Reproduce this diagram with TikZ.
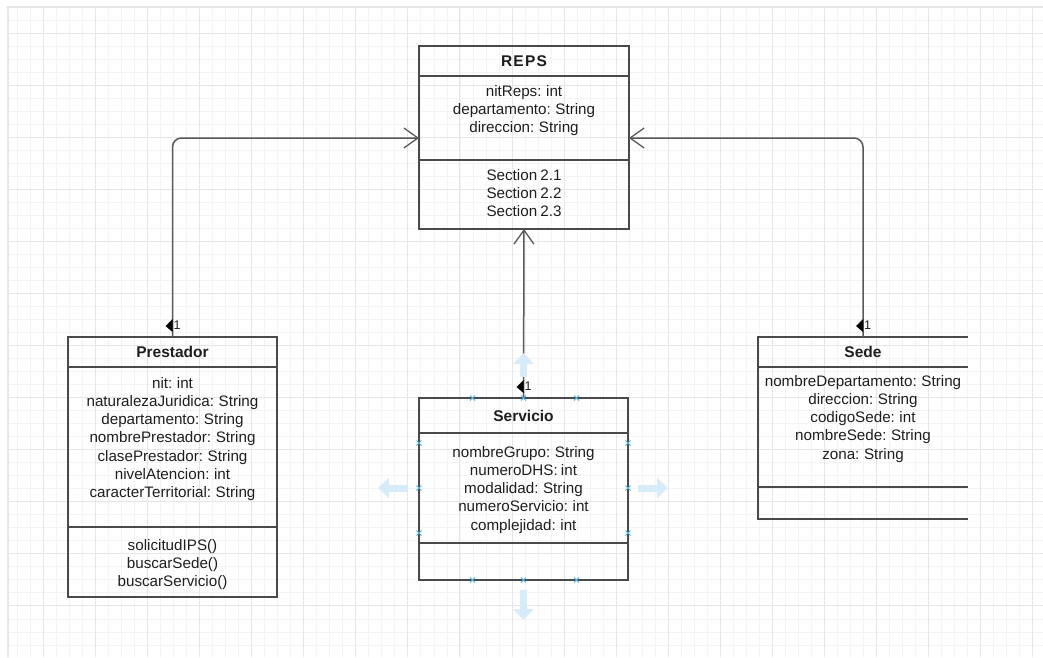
\documentclass[tikz,border=0pt]{standalone}
\usepackage{fontspec}
\setmainfont{Liberation Sans}[WordSpace=0.75]
\usetikzlibrary{positioning, arrows.meta}

\definecolor{gridfine}{HTML}{F4F4F4}
\definecolor{gridmain}{HTML}{E6E6E6}
\definecolor{boxline}{HTML}{4A4A4A}
\definecolor{linkline}{HTML}{595959}
\definecolor{textcol}{HTML}{1E1E1E}
\definecolor{handlefill}{HTML}{D6ECFA}
\definecolor{handlex}{HTML}{45B5EA}

\tikzset{
  part/.style={draw=boxline, line width=1.3pt, minimum width=210pt, inner sep=0pt, outer sep=0pt,
    font=\fontsize{15.5}{18}\selectfont\bfseries, text=textcol},
  members/.style={align=center, inner sep=0pt, font=\fontsize{15.2}{18.2}\selectfont, text=textcol},
  link/.style={draw=linkline, line width=1.5pt, rounded corners=9pt,
    -{Straight Barb[length=14pt, width=20pt, line width=1.3pt]}},
  mult/.style={inner sep=0pt, font=\fontsize{12.5}{13}\selectfont, text=textcol},
  handle/.style={draw=handlefill, line width=7pt, -{Triangle[width=20pt, length=11pt]}},
  handlexmark/.style={draw=handlex, line width=1pt}
}

\begin{document}
\begin{tikzpicture}[x=1pt, y=-1pt]
  \useasboundingbox (0,0) rectangle (1043,657);
  % background grid
  \begin{scope}[y=1pt, shift={(43.3,-33)}]
    \draw[gridfine, line width=0.8pt, step=13.02] (-35.3,26) grid (999.7,-624);
    \draw[gridmain, line width=1pt, step=52.08] (-35.3,26) grid (999.7,-624);
  \end{scope}
  \draw[gridmain, line width=1.2pt] (8,657) -- (8,7) -- (1043,7);

  % REPS
  \node[part, minimum height=30pt] (repsT) at (524,61) {\addfontfeatures{LetterSpace=8}REPS};
  \node[part, minimum height=84pt, below=0pt of repsT] (repsA) {};
  \node[part, minimum height=69pt, below=0pt of repsA] (repsM) {};
  \node[members, below=9pt of repsA.north] (repsAtt) {nitReps: int\\departamento: String\\direccion: String};
  \node[members, below=9pt of repsM.north] (repsMet) {Section 2.1\\Section 2.2\\Section 2.3};

  % Prestador
  \node[part, minimum width=209pt, minimum height=30pt] (prestT) at (172.5,352) {Prestador};
  \node[part, minimum width=209pt, minimum height=160pt, below=0pt of prestT] (prestA) {};
  \node[part, minimum width=209pt, minimum height=70pt, below=0pt of prestA] (prestM) {};
  \node[members, below=10pt of prestA.north] (prestAtt) {nit: int\\naturalezaJuridica: String\\departamento: String\\nombrePrestador: String\\clasePrestador: String\\nivelAtencion: int\\caracterTerritorial: String};
  \node[members, below=12pt of prestM.north] (prestMet) {solicitudIPS()\\buscarSede()\\buscarServicio()};

  % Servicio
  \node[part, minimum width=209pt, minimum height=35pt] (servT) at (523.5,415.5) {Servicio};
  \node[part, minimum width=209pt, minimum height=110pt, below=0pt of servT] (servA) {};
  \node[part, minimum width=209pt, minimum height=37pt, below=0pt of servA] (servM) {};
  \node[members, below=13pt of servA.north] (servAtt) {nombreGrupo: String\\numeroDHS: int\\modalidad: String\\numeroServicio: int\\complejidad: int};

  % Sede (cut off on the right)
  \node[part, draw=none, minimum height=30pt] (sedeT) at (863,352) {Sede};
  \node[part, draw=none, minimum height=120pt, below=0pt of sedeT] (sedeA) {};
  \node[part, draw=none, minimum height=32pt, below=0pt of sedeA] (sedeM) {};
  \node[members, below=8pt of sedeA.north] (sedeAtt) {nombreDepartamento: String\\direccion: String\\codigoSede: int\\nombreSede: String\\zona: String};
  \draw[boxline, line width=1.3pt] (sedeT.north east) -- (sedeT.north west) -- (sedeM.south west) -- (sedeM.south east);
  \draw[boxline, line width=1.3pt] (sedeA.north west) -- (sedeA.north east);
  \draw[boxline, line width=1.3pt] (sedeM.north west) -- (sedeM.north east);

  % associations
  \draw[link] (prestT.north) |- ([yshift=-20pt]repsA.west);
  \draw[link] (sedeT.north) |- ([yshift=-20pt]repsA.east);
  \draw[link] (servT.north) -- (repsM.south);

  % multiplicities
  \fill[black] ([yshift=5pt]prestT.north) -- ++(0,-13) -- ++(-7,7) -- cycle;
  \node[mult, anchor=west] (prestOne) at ([xshift=1pt,yshift=12pt]prestT.north) {1};
  \fill[black] ([yshift=5pt]sedeT.north) -- ++(0,-13) -- ++(-7,7) -- cycle;
  \node[mult, anchor=west] (sedeOne) at ([xshift=1pt,yshift=12pt]sedeT.north) {1};
  \fill[black] ([yshift=5pt]servT.north) -- ++(0,-13) -- ++(-7,7) -- cycle;
  \node[mult, anchor=west] (servOne) at ([xshift=1pt,yshift=12pt]servT.north) {1};

  % selection handles around Servicio
  \draw[handle] ([yshift=21pt]servT.north) -- ++(0,-24);
  \draw[handle] ([yshift=-10pt]servM.south) -- ++(0,30);
  \draw[handle] ([xshift=-11pt]servA.west) -- ++(-30,0);
  \draw[handle] ([xshift=10pt]servA.east) -- ++(30,0);
  \foreach \p in {([xshift=-51pt]servT.north), (servT.north), ([xshift=53pt]servT.north),
                  ([xshift=-51pt]servM.south), (servM.south), ([xshift=53pt]servM.south),
                  ([yshift=45pt]servA.west), (servA.west), ([yshift=-45pt]servA.west),
                  ([yshift=45pt]servA.east), (servA.east), ([yshift=-45pt]servA.east)}
    \draw[handlexmark] \p +(-2.5,-2.5) -- +(2.5,2.5) +(-2.5,2.5) -- +(2.5,-2.5);
\end{tikzpicture}
\end{document}
